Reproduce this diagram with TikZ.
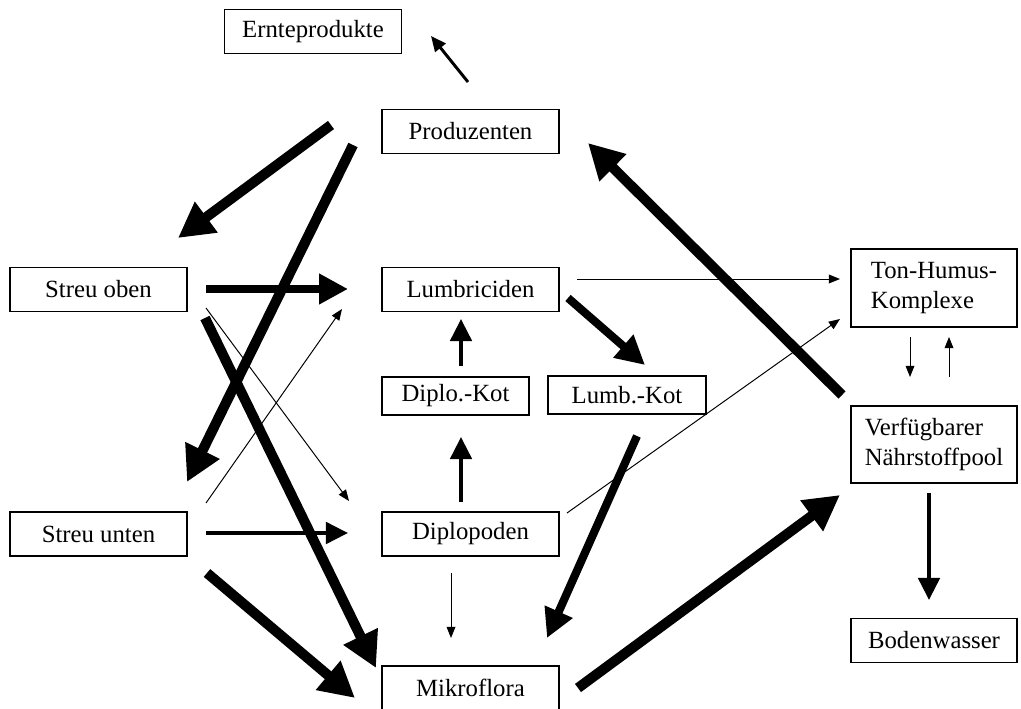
\documentclass[tikz,border=0pt]{standalone}
\usepackage{fontspec}
\setmainfont{Liberation Serif}
\usetikzlibrary{arrows.meta,positioning}

\tikzset{
  box/.style={draw,line width=1pt,minimum width=4.425cm,minimum height=1.1cm,inner sep=2pt},
  kotbox/.style={box,minimum height=0.95cm},
  poolbox/.style={box,minimum width=4.15cm,align=left},
  hair/.style={line width=0.7pt,-{Triangle[length=0.28cm,width=0.22cm]}},
  slim/.style={line width=2.1pt,-{Triangle[length=0.38cm,width=0.33cm]}},
  flow/.style={line width=2.9pt,-{Triangle[length=0.55cm,width=0.53cm]}},
  bulk/.style={line width=5.8pt,-{Triangle[length=0.72cm,width=0.72cm]}},
  mass/.style={line width=7.2pt,-{Triangle[length=0.88cm,width=0.9cm]}}
}

\begin{document}
\begin{tikzpicture}[x=0.025cm,y=-0.025cm,every node/.style={font=\fontsize{17.6}{21}\selectfont}]
\useasboundingbox (0,0) rectangle (1021,709);

% compartments
\node[box] (ernte) at (313,31.5) {Ernteprodukte};
\node[box] (prod) at (470.5,131.5) {Produzenten};
\node[box] (streuO) at (98.5,289.5) {Streu oben};
\node[box] (lumb) at (470.5,289.5) {Lumbriciden};
\node[kotbox,minimum width=3.675cm] (dkot) at (455.5,396) {Diplo.-Kot};
\node[kotbox,minimum width=3.95cm] (lkot) at (627,395) {Lumb.-Kot};
\node[box] (streuU) at (98.5,534) {Streu unten};
\node[box] (diplo) at (470.5,534) {Diplopoden};
\node[box] (mikro) at (470.5,688) {Mikroflora};
\node[poolbox,minimum height=1.95cm] (ton) at (934,288) {Ton-Humus-\\Komplexe};
\node[poolbox,minimum height=1.925cm] (verf) at (934,444.5) {Verfügbarer\\Nährstoffpool};
\node[box,minimum width=4.15cm] (boden) at (934,640.5) {Bodenwasser};

% arrow ends (free floating between the boxes)
\coordinate (pe-s) at (468,82);  \coordinate (pe-t) at (431,36);
\coordinate (ps-s) at (331,125); \coordinate (ps-t) at (178,238);
\coordinate (pu-s) at (353,145); \coordinate (pu-t) at (187,482);
\coordinate (ol-s) at (206,289); \coordinate (ol-t) at (348,289);
\coordinate (om-s) at (205,318); \coordinate (om-t) at (376,668);
\coordinate (od-s) at (206,308); \coordinate (od-t) at (349,501);
\coordinate (ul-s) at (206,503); \coordinate (ul-t) at (342,309);
\coordinate (ud-s) at (206,533); \coordinate (ud-t) at (348,533);
\coordinate (um-s) at (207,573); \coordinate (um-t) at (355,698);
\coordinate (lt-s) at (577,279); \coordinate (lt-t) at (840,279);
\coordinate (lk-s) at (568,298); \coordinate (lk-t) at (645,365);
\coordinate (dl-s) at (461,366); \coordinate (dl-t) at (461,319);
\coordinate (dd-s) at (461,502); \coordinate (dd-t) at (461,437);
\coordinate (dt-s) at (567,513); \coordinate (dt-t) at (840,319);
\coordinate (dm-s) at (451,573); \coordinate (dm-t) at (451,638);
\coordinate (km-s) at (637,436); \coordinate (km-t) at (547,638);
\coordinate (mv-s) at (578,688); \coordinate (mv-t) at (840,495);
\coordinate (vp-s) at (842,395); \coordinate (vp-t) at (588,143);
\coordinate (tv-s) at (910,337); \coordinate (tv-t) at (910,377);
\coordinate (vt-s) at (949,377); \coordinate (vt-t) at (949,337);
\coordinate (vb-s) at (929,493); \coordinate (vb-t) at (929,600);

% flows
\draw[slim] (pe-s) -- (pe-t);
\draw[mass] (ps-s) -- (ps-t);
\draw[mass] (pu-s) -- (pu-t);
\draw[bulk] (ol-s) -- (ol-t);
\draw[mass] (om-s) -- (om-t);
\draw[hair] (od-s) -- (od-t);
\draw[hair] (ul-s) -- (ul-t);
\draw[flow] (ud-s) -- (ud-t);
\draw[mass] (um-s) -- (um-t);
\draw[hair] (lt-s) -- (lt-t);
\draw[bulk] (lk-s) -- (lk-t);
\draw[flow] (dl-s) -- (dl-t);
\draw[flow] (dd-s) -- (dd-t);
\draw[hair] (dt-s) -- (dt-t);
\draw[hair] (dm-s) -- (dm-t);
\draw[bulk] (km-s) -- (km-t);
\draw[mass] (mv-s) -- (mv-t);
\draw[mass] (vp-s) -- (vp-t);
\draw[hair] (tv-s) -- (tv-t);
\draw[hair] (vt-s) -- (vt-t);
\draw[flow] (vb-s) -- (vb-t);
\end{tikzpicture}
\end{document}
